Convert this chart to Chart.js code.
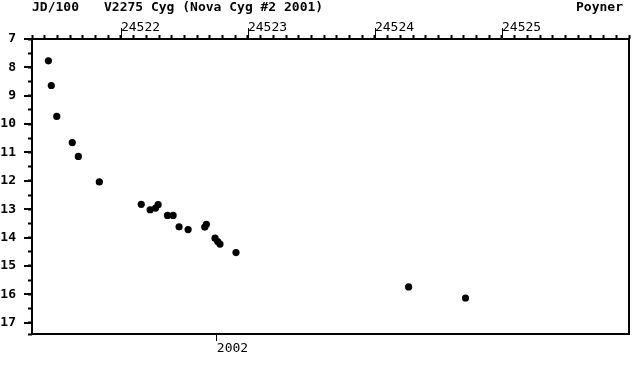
<!DOCTYPE html>
<html>
<head>
<meta charset="utf-8">
<script src="https://cdn.jsdelivr.net/npm/chart.js@4/dist/chart.umd.min.js"></script>
<style>
    html, body { margin: 0; padding: 0; background: #fff; }
</style>
</head>
<body>
<canvas id="lightCurve" width="635" height="372"></canvas>
<script>
// --- Observaciones: fecha juliana y magnitud visual ---
const jd = [2452142.9, 2452145.2, 2452149.5, 2452161.7, 2452166.5, 2452183.0,
            2452216.0, 2452223.0, 2452227.3, 2452229.3, 2452236.7, 2452241.1,
            2452245.8, 2452252.9, 2452266.0, 2452267.3, 2452274.1, 2452276.2,
            2452278.0, 2452290.6, 2452426.5, 2452471.3];
const mag = [7.77, 8.64, 9.73, 10.65, 11.14, 12.04,
             12.83, 13.02, 12.96, 12.84, 13.22, 13.22,
             13.62, 13.72, 13.63, 13.53, 14.02, 14.14,
             14.23, 14.53, 15.74, 16.13];

// ejes
const jdMin = 2452130, jdMax = 2452600;
const jdLabels = [2452200, 2452300, 2452400, 2452500];
const magMin = 7, magMax = 17.4;
const yearTicks = [2452275.5];
const yearLabels = ['2002'];

const titleLeft = 'JD/100';
const titleMain = 'V2275 Cyg (Nova Cyg #2 2001)';
const titleRight = 'Poyner';

const FONT = '"DejaVu Sans Mono", "Liberation Mono", monospace';

// marco, marcas mayores y cabecera
const framePlugin = {
    id: 'frame',
    afterDraw(chart) {
        const ctx = chart.ctx;
        const a = chart.chartArea;
        const x = chart.scales.x;
        const y = chart.scales.y;
        ctx.save();
        ctx.strokeStyle = '#000';
        ctx.lineWidth = 2;
        ctx.strokeRect(a.left, a.top, a.right - a.left, a.bottom - a.top);

        // marcas enteras de magnitud (mas largas)
        for (let m = Math.ceil(magMin); m <= Math.floor(magMax); m++) {
            const py = Math.round(y.getPixelForValue(m));
            ctx.beginPath();
            ctx.moveTo(a.left - 8, py);
            ctx.lineTo(a.left, py);
            ctx.stroke();
        }
        // marcas de JD/100 con etiqueta
        ctx.lineWidth = 1;
        jdLabels.forEach(v => {
            const px = Math.round(x.getPixelForValue(v)) + 0.5;
            ctx.beginPath();
            ctx.moveTo(px, a.top - 11);
            ctx.lineTo(px, a.top);
            ctx.stroke();
        });

        ctx.fillStyle = '#000';
        ctx.font = 'bold 13px ' + FONT;
        ctx.textBaseline = 'middle';
        ctx.textAlign = 'left';
        ctx.fillText(titleLeft, 32, 8);
        ctx.fillText(titleMain, 104, 8);
        ctx.fillText(titleRight, 576, 8);
        ctx.restore();
    }
};

new Chart(document.getElementById('lightCurve'), {
    type: 'scatter',
    data: {
        datasets: [{
            data: jd.map((v, i) => ({ x: v, y: mag[i] })),
            backgroundColor: '#000',
            borderWidth: 0,
            pointRadius: 3.6,
            pointHoverRadius: 3.6
        }]
    },
    options: {
        responsive: false,
        animation: false,
        layout: { padding: { right: 6 } },
        plugins: {
            legend: { display: false },
            tooltip: { enabled: false }
        },
        scales: {
            x: {
                type: 'linear',
                position: 'top',
                min: jdMin,
                max: jdMax,
                bounds: 'data',
                afterFit: s => { s.height = 39; s.paddingRight = 0; s.paddingLeft = 0; },
                border: { display: false },
                grid: { drawOnChartArea: false, tickLength: 4, tickWidth: 2, tickColor: '#000' },
                ticks: {
                    stepSize: 10,
                    includeBounds: false,
                    autoSkip: false,
                    maxRotation: 0,
                    align: 'start',
                    padding: 0,
                    color: '#000',
                    font: { family: FONT, size: 13 },
                    callback: v => (jdLabels.includes(Math.round(v)) ? String(Math.round(v) / 100) : '')
                }
            },
            x2: {
                type: 'linear',
                position: 'bottom',
                min: jdMin,
                max: jdMax,
                bounds: 'data',
                afterBuildTicks: s => { s.ticks = yearTicks.map(v => ({ value: v })); },
                afterFit: s => { s.height = 38; s.paddingRight = 0; s.paddingLeft = 0; },
                border: { display: false },
                grid: { drawOnChartArea: false, tickLength: 7, tickWidth: 1, tickColor: '#000' },
                ticks: {
                    autoSkip: false,
                    maxRotation: 0,
                    align: 'start',
                    padding: 0,
                    color: '#000',
                    font: { family: FONT, size: 13 },
                    callback: (v, i) => yearLabels[i]
                }
            },
            y: {
                type: 'linear',
                position: 'left',
                reverse: true,
                min: magMin,
                max: magMax,
                bounds: 'data',
                afterFit: s => { s.width = 32; s.paddingTop = 0; s.paddingBottom = 0; },
                border: { display: false },
                grid: { drawOnChartArea: false, tickLength: 4, tickWidth: 2, tickColor: '#000' },
                ticks: {
                    stepSize: 0.5,
                    includeBounds: false,
                    autoSkip: false,
                    padding: 12,
                    color: '#000',
                    font: { family: FONT, size: 13, weight: 'bold' },
                    callback: v => (Number.isInteger(v) ? String(v) : '')
                }
            }
        }
    },
    plugins: [framePlugin]
});
</script>
</body>
</html>
